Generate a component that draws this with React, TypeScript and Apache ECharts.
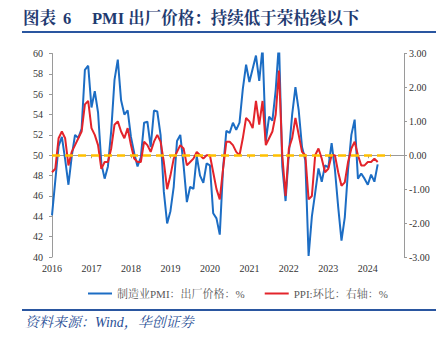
import React, { useEffect, useRef } from 'react';
import * as echarts from 'echarts';

const YEARS = ['2016', '2017', '2018', '2019', '2020', '2021', '2022', '2023', '2024'];
const MONTHS: string[] = YEARS.flatMap((y) =>
  Array.from({ length: 12 }, (_, k) => `${y}-${String(k + 1).padStart(2, '0')}`)
);

// 制造业PMI：出厂价格（左轴）, 2016-01 .. 2024-04
const PMI_OUTPUT_PRICE = [
  44.1, 47.5, 50.9, 51.8, 49.6, 47.1, 49.9, 52.0, 51.7, 52.6, 58.4, 58.8,
  54.7, 56.3, 54.2, 49.2, 47.7, 48.9, 52.4, 57.4, 59.4, 55.4, 54.0, 54.4,
  51.8, 50.2, 48.9, 49.8, 53.2, 53.3, 50.8, 54.4, 54.3, 52.0, 46.4, 43.3,
  44.5, 46.9, 51.4, 52.0, 49.0, 45.4, 46.9, 46.7, 49.9, 48.0, 47.3, 49.2,
  49.0, 44.3, 43.8, 42.2, 48.7, 52.4, 52.2, 53.2, 52.5, 53.2, 56.5, 58.9,
  57.2, 58.5, 59.8, 57.3, 60.6, 51.4, 53.8, 53.4, 56.4, 61.1, 48.9, 45.5,
  50.2, 54.0, 56.7, 54.4, 50.8, 49.5, 40.1, 44.0, 46.3, 48.7, 47.4, 49.0,
  48.8, 51.2, 48.6, 44.9, 41.6, 43.9, 48.6, 52.0, 53.5, 47.7, 48.2, 47.7,
  47.1, 48.1, 47.4, 49.1,
];

// PPI 环比（右轴）, 2016-01 .. 2024-04
const PPI_MOM = [
  -0.5, -0.4, 0.5, 0.7, 0.5, -0.3, 0.1, 0.3, 0.5, 0.7, 1.5, 1.6,
  0.8, 0.6, 0.3, -0.4, -0.2, -0.2, 0.2, 0.9, 1.0, 0.7, 0.5, 0.8,
  0.3, -0.1, -0.2, -0.2, 0.4, 0.3, 0.1, 0.4, 0.6, 0.4, -0.2, -1.0,
  -0.6, -0.1, 0.1, 0.3, 0.2, -0.3, -0.2, -0.1, 0.1, 0.0, -0.1, 0.0,
  0.0, -0.5, -1.0, -1.3, -0.4, 0.4, 0.4, 0.3, 0.1, 0.0, 0.5, 1.1,
  1.0, 0.8, 1.6, 0.9, 1.6, 0.3, 0.5, 0.7, 1.2, 2.5, 0.0, -1.2,
  0.2, 0.5, 1.1, 0.6, 0.1, 0.0, -1.3, -1.2, 0.0, 0.2, -0.1, -0.5,
  -0.4, 0.0, 0.0, -0.5, -0.9, -0.8, -0.2, 0.2, 0.4, 0.0, -0.3, -0.3,
  -0.2, -0.2, -0.1, -0.2,
];

const LEFT_AXIS = { min: 40, max: 60, interval: 2 };
const RIGHT_AXIS = { min: -3, max: 3, interval: 1 };
const THRESHOLD = 50; // 荣枯线
const THRESHOLD_END = '2024-08';

const SERIES_NAMES = ['制造业PMI：出厂价格：%', 'PPI:环比：右轴：%'];
const TITLE_PARTS = ['图表', '6', 'PMI 出厂价格：持续低于荣枯线以下'];
const SOURCE = '资料来源：Wind，华创证券';

const SERIF = "'Liberation Serif', 'Times New Roman', 'Noto Serif CJK SC', 'Noto Sans CJK SC', serif";
const NAVY = '#1F3A70';
const RULE = '#2A56A0';
const BLUE = '#1C6DC4';
const RED = '#E3242B';
const AXIS_GREY = '#9A9A9A';

export default function App() {
  const ref = useRef<HTMLDivElement>(null);

  useEffect(() => {
    if (!ref.current) return;
    const chart = echarts.init(ref.current, undefined, { renderer: 'svg' });
    const showYear = (idx: number) => idx % 12 === 0;

    chart.setOption({
      animation: false,
      backgroundColor: '#ffffff',
      grid: {
        left: 52,
        right: 42,
        top: 53.5,
        bottom: 80,
        containLabel: false,
        outerBoundsMode: 'none',
      },
      legend: {
        left: 83,
        top: 283,
        itemWidth: 24,
        itemHeight: 2,
        itemGap: 20,
        icon: 'rect',
        data: SERIES_NAMES,
        textStyle: { fontFamily: SERIF, fontSize: 11, color: '#595959' },
      },
      xAxis: {
        type: 'category',
        data: MONTHS,
        boundaryGap: false,
        axisLine: { show: true, lineStyle: { color: AXIS_GREY, width: 1 } },
        axisTick: { show: true, interval: (i: number) => showYear(i), length: 3, lineStyle: { color: AXIS_GREY } },
        axisLabel: {
          interval: (i: number) => showYear(i),
          formatter: (v: string) => v.slice(0, 4),
          fontFamily: SERIF,
          fontSize: 10,
          color: '#333',
          margin: 6,
        },
        splitLine: { show: false },
      },
      yAxis: [
        {
          type: 'value',
          position: 'left',
          min: LEFT_AXIS.min,
          max: LEFT_AXIS.max,
          interval: LEFT_AXIS.interval,
          axisLine: { show: true, lineStyle: { color: AXIS_GREY } },
          axisTick: { show: true, length: 3, lineStyle: { color: AXIS_GREY } },
          axisLabel: { fontFamily: SERIF, fontSize: 10, color: '#333', margin: 9 },
          splitLine: { show: false },
        },
        {
          type: 'value',
          position: 'right',
          min: RIGHT_AXIS.min,
          max: RIGHT_AXIS.max,
          interval: RIGHT_AXIS.interval,
          axisLine: { show: true, lineStyle: { color: AXIS_GREY } },
          axisTick: { show: true, length: 3, lineStyle: { color: AXIS_GREY } },
          axisLabel: {
            fontFamily: SERIF,
            fontSize: 10,
            color: '#333',
            margin: 5,
            formatter: (v: number) => v.toFixed(2),
          },
          splitLine: { show: false },
        },
      ],
      series: [
        {
          name: SERIES_NAMES[0],
          type: 'line',
          yAxisIndex: 0,
          data: PMI_OUTPUT_PRICE,
          showSymbol: false,
          symbol: 'none',
          clip: true,
          lineStyle: { color: BLUE, width: 2 },
          itemStyle: { color: BLUE },
          markLine: {
            silent: true,
            symbol: 'none',
            label: { show: false },
            lineStyle: { color: '#FFC000', type: [8, 5], width: 2.5 },
            data: [[{ coord: [MONTHS[0], THRESHOLD] }, { coord: [THRESHOLD_END, THRESHOLD] }]],
          },
        },
        {
          name: SERIES_NAMES[1],
          type: 'line',
          yAxisIndex: 1,
          data: PPI_MOM,
          showSymbol: false,
          symbol: 'none',
          clip: true,
          lineStyle: { color: RED, width: 2 },
          itemStyle: { color: RED },
        },
      ],
      graphic: [
        {
          type: 'text',
          left: 23,
          top: 10,
          style: { text: TITLE_PARTS[0], font: `bold 16.5px ${SERIF}`, fill: NAVY },
        },
        {
          type: 'text',
          left: 63,
          top: 10,
          style: { text: TITLE_PARTS[1], font: `bold 16.5px ${SERIF}`, fill: NAVY },
        },
        {
          type: 'text',
          left: 92,
          top: 10,
          style: { text: TITLE_PARTS[2], font: `bold 16.5px ${SERIF}`, fill: NAVY },
        },
        {
          type: 'line',
          shape: { x1: 22, y1: 32, x2: 436, y2: 32 },
          style: { stroke: RULE, lineWidth: 2 },
        },
        {
          type: 'line',
          shape: { x1: 22, y1: 310, x2: 436, y2: 310 },
          style: { stroke: RULE, lineWidth: 2 },
        },
        {
          type: 'text',
          left: 25,
          top: 315,
          style: { text: SOURCE, font: `italic 14px ${SERIF}`, fill: '#2A4F96' },
        },
      ],
    });

    return () => chart.dispose();
  }, []);

  return (
    <div
      ref={ref}
      style={{ position: 'fixed', left: 0, top: 0, width: 446, height: 337, background: '#fff' }}
    />
  );
}
